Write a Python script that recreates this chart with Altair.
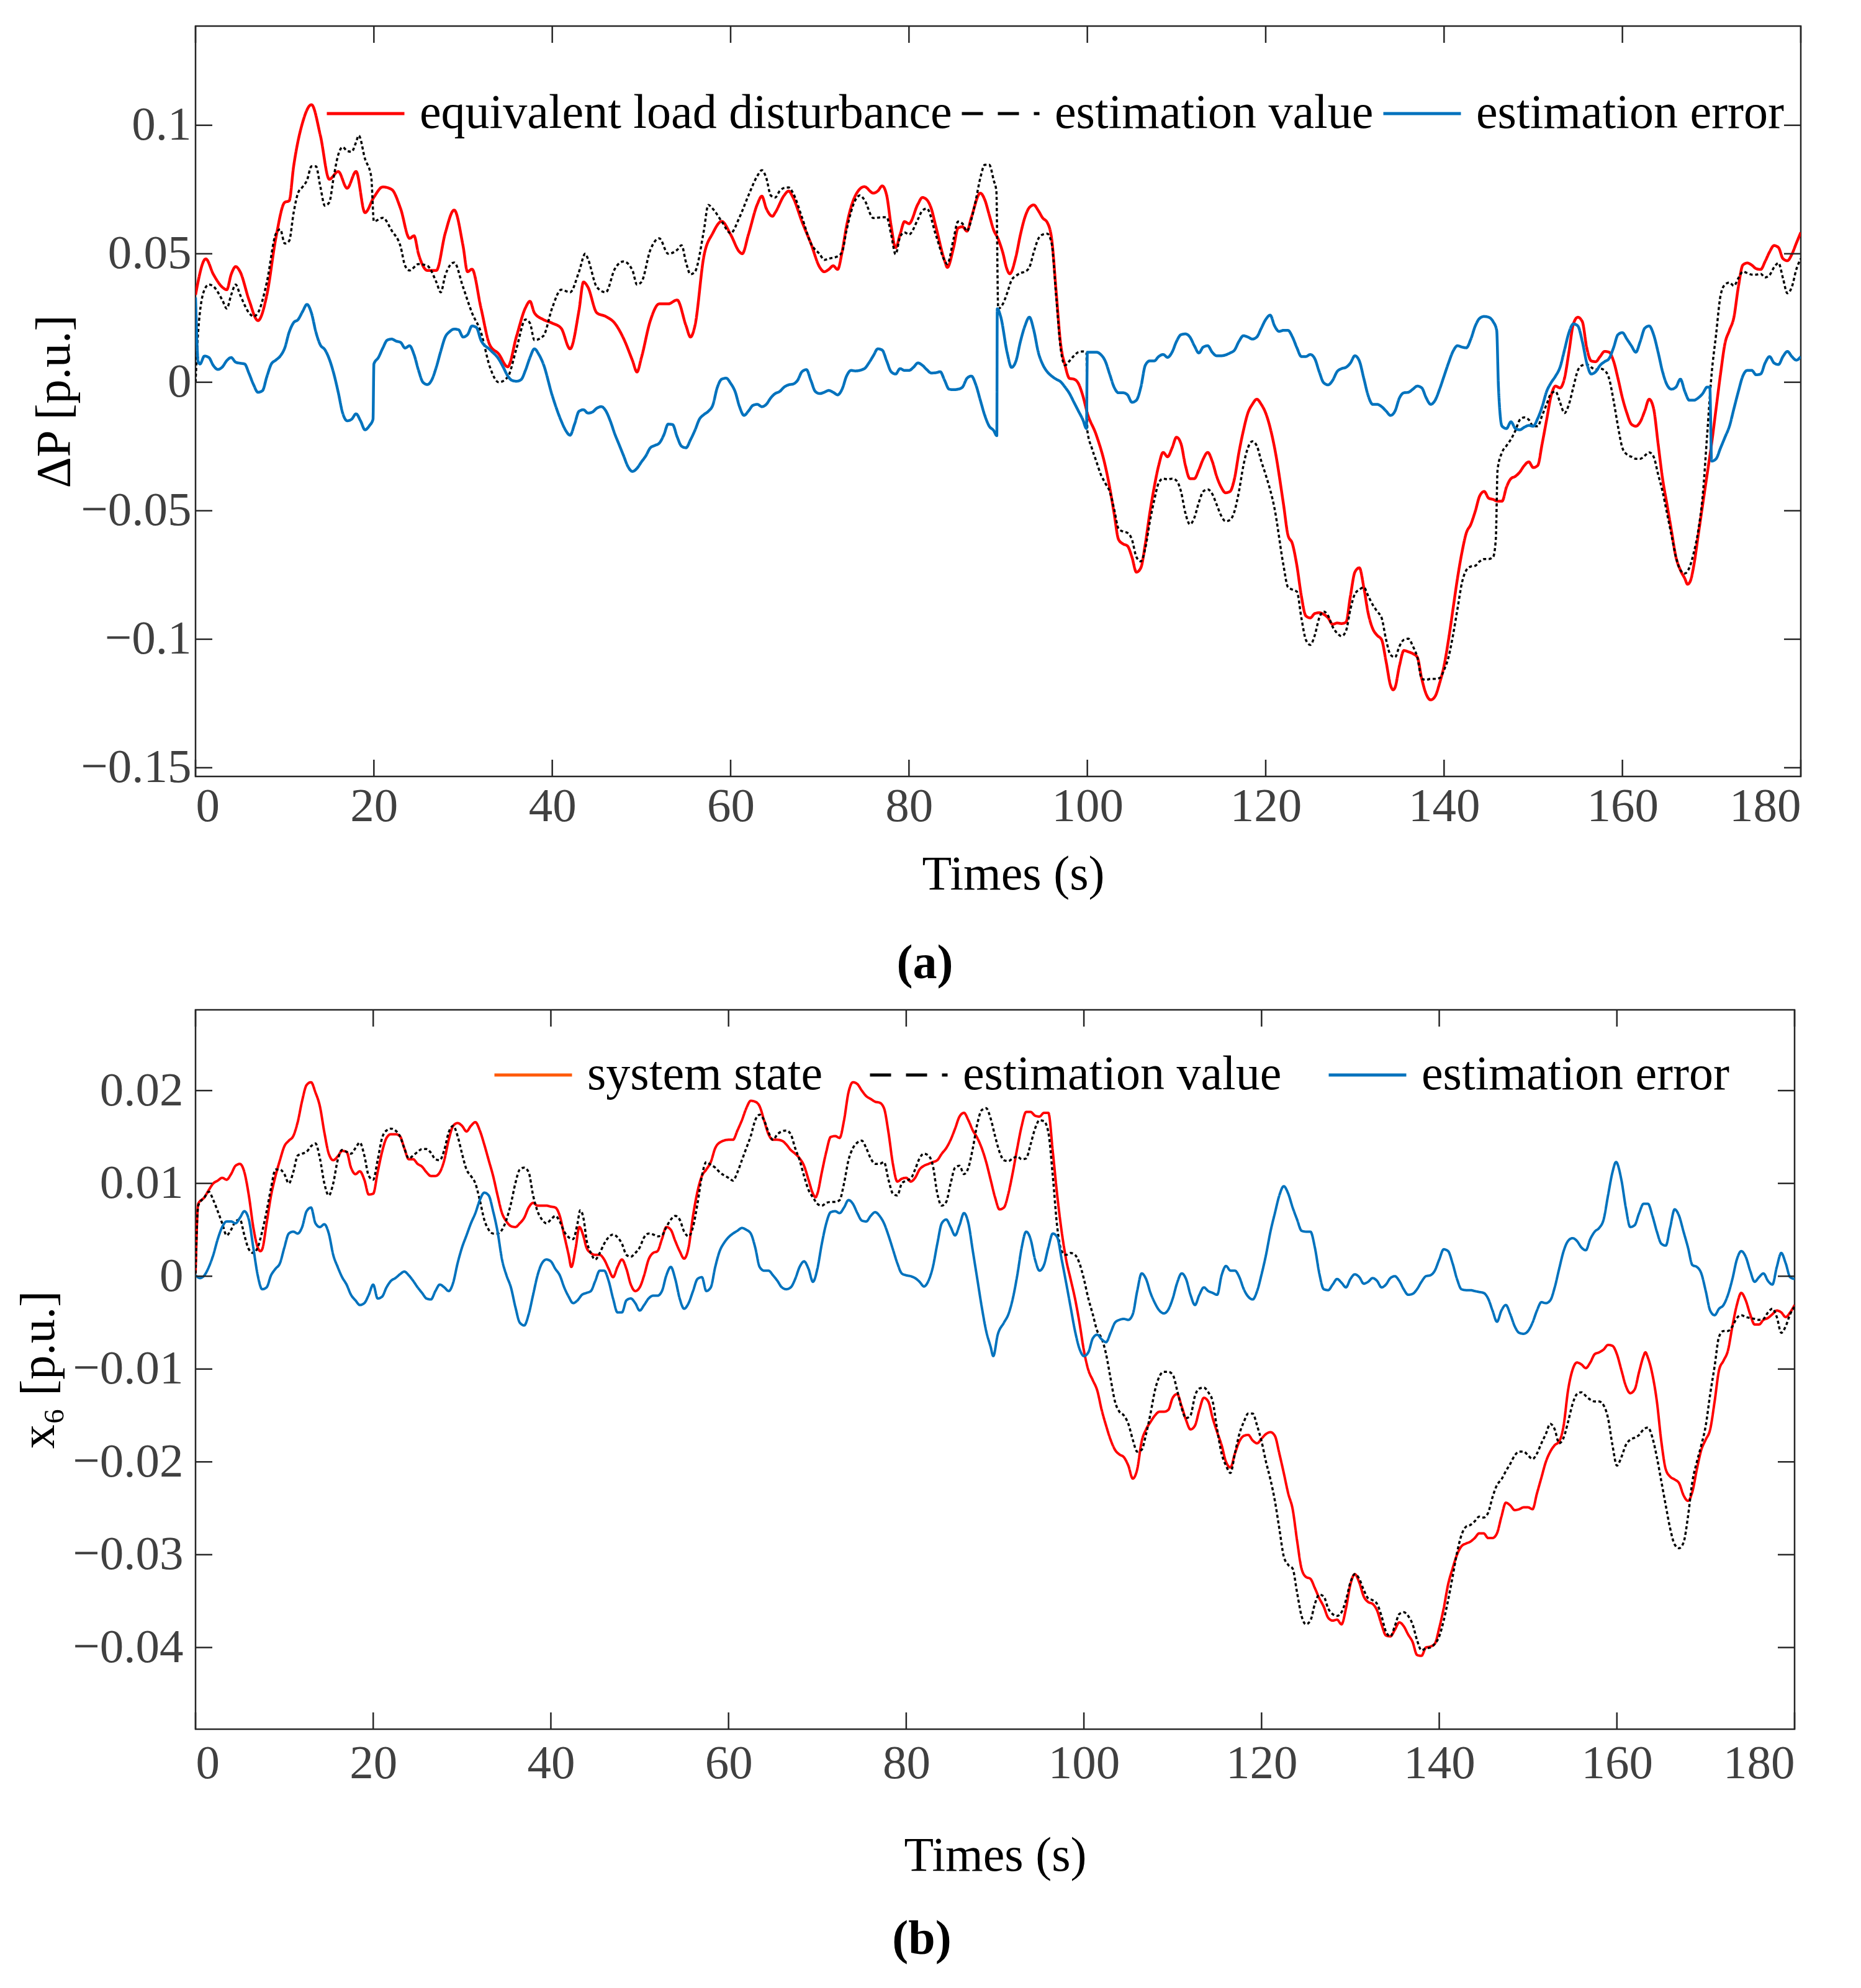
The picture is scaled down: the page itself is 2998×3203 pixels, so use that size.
import altair as alt
import pandas as pd

FONT = "Liberation Serif"
AXIS_COLOR = "#262626"
LABEL_COLOR = "#404040"

# ---------------- panel (a): equivalent load disturbance ----------------
A_NAMES = ["equivalent load disturbance", "estimation value", "estimation error"]

A_LOAD = [
    (0, 0.034), (1.15, 0.048), (2, 0.042), (3, 0.037), (3.5, 0.036), (4, 0.042), (4.5, 0.045),
    (5, 0.043), (6, 0.032), (7, 0.024), (8, 0.034), (9, 0.056), (10, 0.070), (10.5, 0.0706),
    (11, 0.084), (12, 0.101), (13, 0.108), (14, 0.096), (15, 0.079), (16, 0.082), (17, 0.0755),
    (18, 0.082), (19, 0.066), (20, 0.072), (21, 0.076), (22, 0.075), (23, 0.0675), (24, 0.056),
    (24.5, 0.057), (25, 0.050), (26, 0.0435), (27, 0.0435), (28, 0.058), (29, 0.067), (30, 0.053),
    (30.5, 0.043), (31, 0.044), (32, 0.029), (33, 0.0145), (34, 0.011), (35, 0.006), (36, 0.018),
    (37, 0.029), (37.5, 0.0315), (38, 0.027), (39, 0.0244), (40, 0.023), (41, 0.021), (42, 0.013),
    (43, 0.028), (43.5, 0.039), (44, 0.037), (45, 0.027), (46, 0.0256), (47, 0.023), (48, 0.017),
    (49, 0.0084), (49.5, 0.004), (50, 0.0096), (51, 0.024), (52, 0.0305), (53, 0.0305), (54, 0.032),
    (55, 0.022), (55.5, 0.0176), (56, 0.022), (57, 0.049), (58, 0.058), (59, 0.0626), (60, 0.0575),
    (61, 0.0507), (61.3, 0.050), (62, 0.0575), (63, 0.0693), (63.5, 0.0724), (64, 0.0676),
    (64.7, 0.0646), (65, 0.066), (66, 0.0727), (66.5, 0.0744), (67, 0.0719), (68, 0.0625),
    (69, 0.054), (70, 0.0447), (70.5, 0.043), (71, 0.0439), (71.5, 0.0453), (72, 0.0439),
    (72.5, 0.0507), (73, 0.0608), (74, 0.0727), (75, 0.0761), (76, 0.0736), (76.5, 0.0744),
    (77, 0.0764), (77.5, 0.0727), (78, 0.0608), (78.5, 0.0524), (79, 0.0575), (79.5, 0.0625),
    (80, 0.0617), (81, 0.0693), (81.5, 0.0719), (82, 0.071), (82.5, 0.0676), (83, 0.0608),
    (84, 0.0473), (84.3, 0.0447), (85, 0.0524), (85.5, 0.060), (86, 0.0605), (86.5, 0.0588),
    (87, 0.0642), (88, 0.0736), (88.5, 0.071), (89, 0.0651), (89.5, 0.0592), (90, 0.0558),
    (90.5, 0.0507), (91, 0.0439), (91.3, 0.0422), (92, 0.049), (92.5, 0.0575), (93, 0.0642),
    (93.5, 0.068), (94, 0.069), (94.5, 0.0668), (95, 0.0639), (95.5, 0.0622), (96, 0.0558),
    (96.5, 0.0354), (97, 0.0151), (97.5, 0.0066), (98, 0.0015), (98.5, 0.0012), (99, -0.0005),
    (99.5, -0.0053), (100, -0.012), (101, -0.0205), (102, -0.0324), (102.5, -0.0408), (103, -0.051),
    (103.5, -0.0612), (104, -0.0629), (104.5, -0.0637), (105, -0.068), (105.5, -0.0739),
    (106, -0.0722), (106.5, -0.0629), (107, -0.051), (107.5, -0.0408), (108, -0.0324),
    (108.5, -0.0273), (109, -0.029), (109.5, -0.0256), (110, -0.0214), (110.5, -0.0239),
    (111, -0.0324), (111.5, -0.0375), (112, -0.0375), (112.5, -0.0341), (113, -0.0298),
    (113.5, -0.0273), (114, -0.0307), (114.5, -0.0366), (115, -0.0408), (115.5, -0.043),
    (116, -0.0425), (116.5, -0.0375), (117, -0.0273), (117.5, -0.0188), (118, -0.012),
    (118.5, -0.0086), (119, -0.0066), (119.5, -0.0086), (120, -0.012), (121, -0.0256),
    (122, -0.0476), (122.5, -0.0595), (123, -0.0629), (123.5, -0.0714), (124, -0.0832),
    (124.5, -0.0909), (125, -0.0917), (125.5, -0.09), (126, -0.0897), (126.5, -0.0903),
    (127, -0.0917), (127.5, -0.0942), (128, -0.0937), (128.5, -0.0939), (129, -0.0934),
    (129.5, -0.0832), (130, -0.0739), (130.5, -0.0722), (131, -0.0798), (131.5, -0.09),
    (132, -0.0959), (132.5, -0.0985), (133, -0.1002), (133.5, -0.1087), (134, -0.118),
    (134.3, -0.1197), (134.5, -0.1188), (135, -0.1103), (135.5, -0.1044), (136, -0.1049),
    (136.5, -0.1056), (137, -0.107), (137.5, -0.1154), (138, -0.1214), (138.5, -0.1236),
    (139, -0.1222), (139.5, -0.1171), (140, -0.1103), (140.5, -0.1002), (141, -0.0883),
    (141.5, -0.0764), (142, -0.0663), (142.5, -0.0586), (143, -0.0553), (143.5, -0.0502),
    (144, -0.0442), (144.5, -0.0425), (145, -0.0451), (145.5, -0.0456), (146, -0.0463),
    (146.5, -0.0463), (147, -0.0408), (147.5, -0.0375), (148, -0.0366), (148.5, -0.0349),
    (149, -0.0324), (149.5, -0.031), (150, -0.0332), (150.5, -0.0324), (151, -0.0239),
    (151.5, -0.0146), (152, -0.0053), (152.5, -0.0015), (153, -0.0022), (153.5, 0.0015),
    (154, 0.0117), (154.5, 0.0227), (155, 0.0253), (155.5, 0.0236), (156, 0.0134), (156.5, 0.0083),
    (157, 0.008), (157.5, 0.01), (158, 0.012), (158.5, 0.0117), (159, 0.0083), (159.5, 0.0015),
    (160, -0.0061), (160.5, -0.012), (161, -0.0163), (161.5, -0.0171), (162, -0.0154),
    (162.5, -0.0112), (163, -0.0066), (163.5, -0.0103), (164, -0.0239), (164.5, -0.0375),
    (165, -0.0476), (165.5, -0.0578), (166, -0.068), (166.5, -0.0731), (167, -0.0764),
    (167.3, -0.0786), (167.6, -0.0775), (168, -0.0714), (168.5, -0.0595), (169, -0.0476),
    (169.5, -0.0358), (170, -0.0239), (170.5, -0.0103), (171, 0.0032), (171.5, 0.0151),
    (172, 0.0202), (172.5, 0.0253), (173, 0.0371), (173.5, 0.0456), (174, 0.0464), (174.5, 0.0456),
    (175, 0.0442), (175.5, 0.0439), (176, 0.047), (176.5, 0.0507), (177, 0.0532), (177.5, 0.0524),
    (178, 0.0481), (178.5, 0.0473), (179, 0.0498), (179.5, 0.0541), (180, 0.0583),
]

A_EST = [
    (0, 0.0), (0.3, 0.02), (1, 0.036), (1.5, 0.038), (2, 0.0373), (3, 0.032), (3.5, 0.0287),
    (4, 0.034), (4.5, 0.038), (5, 0.034), (6, 0.027), (6.5, 0.0256), (7, 0.027), (8, 0.039),
    (9, 0.0577), (9.5, 0.0595), (10, 0.054), (10.5, 0.055), (11, 0.066), (11.5, 0.0737),
    (12, 0.076), (12.5, 0.0786), (13, 0.084), (13.5, 0.084), (14, 0.076), (14.5, 0.0687),
    (15, 0.070), (15.5, 0.080), (16, 0.0885), (16.5, 0.0915), (17, 0.090), (17.5, 0.0897),
    (18, 0.0934), (18.3, 0.096), (19, 0.087), (19.7, 0.080), (20, 0.0626), (21, 0.064), (22, 0.059),
    (23, 0.0527), (23.5, 0.0453), (24, 0.0435), (25, 0.046), (26, 0.0453), (27, 0.039),
    (27.5, 0.035), (28, 0.0416), (29, 0.0466), (30, 0.037), (31, 0.027), (32, 0.0195), (33, 0.006),
    (34, 0.0), (35, 0.002), (36, 0.0133), (37, 0.0244), (37.5, 0.023), (38, 0.0164), (39, 0.018),
    (40, 0.029), (41, 0.036), (42, 0.035), (43, 0.043), (43.7, 0.050), (44, 0.048), (45, 0.037),
    (46, 0.035), (47, 0.044), (48, 0.047), (49, 0.0435), (49.5, 0.038), (50, 0.039), (51, 0.0515),
    (52, 0.056), (53, 0.050), (54, 0.0515), (54.5, 0.0533), (55, 0.0466), (55.5, 0.042),
    (56, 0.043), (57, 0.059), (57.5, 0.069), (58, 0.0675), (59, 0.0626), (60, 0.058), (61, 0.0642),
    (62, 0.0727), (63, 0.0803), (63.5, 0.0825), (64, 0.0795), (64.5, 0.0727), (65, 0.0719),
    (65.5, 0.0744), (66, 0.0756), (66.5, 0.0758), (67, 0.0736), (68, 0.0642), (69, 0.054),
    (70, 0.0498), (70.5, 0.0476), (71, 0.0481), (72, 0.049), (72.5, 0.0507), (73, 0.0592),
    (74, 0.071), (74.5, 0.0727), (75, 0.071), (76, 0.0639), (77, 0.0642), (77.5, 0.0642),
    (78, 0.0575), (78.5, 0.0498), (79, 0.0566), (79.5, 0.0583), (80, 0.0575), (81, 0.0634),
    (81.5, 0.0668), (82, 0.0676), (83, 0.0575), (84, 0.0473), (84.3, 0.046), (85, 0.0558),
    (85.5, 0.0625), (86, 0.0617), (86.5, 0.0588), (87, 0.0634), (87.5, 0.071), (88, 0.0795),
    (88.5, 0.0846), (89, 0.0846), (89.5, 0.0786), (89.8, 0.0744), (90, 0.0286), (90.5, 0.0303),
    (91, 0.0346), (91.5, 0.0397), (92, 0.0414), (92.5, 0.0425), (93, 0.043), (93.5, 0.0447),
    (94, 0.0507), (94.5, 0.0558), (95, 0.0575), (95.5, 0.0578), (96, 0.054), (96.5, 0.0337),
    (97, 0.0134), (97.5, 0.0066), (98, 0.0083), (98.5, 0.0103), (99, 0.0117), (99.5, 0.012),
    (99.9, 0.0117), (100, -0.0188), (100.5, -0.0256), (101, -0.0307), (101.5, -0.0358),
    (102, -0.0392), (102.5, -0.0425), (103, -0.0493), (103.5, -0.057), (104, -0.0581),
    (104.5, -0.0586), (105, -0.0612), (105.5, -0.068), (106, -0.0697), (106.5, -0.0646),
    (107, -0.0544), (107.5, -0.0459), (108, -0.0392), (108.5, -0.0375), (109, -0.0378),
    (109.5, -0.0375), (110, -0.0383), (110.5, -0.0425), (111, -0.051), (111.5, -0.0553),
    (112, -0.0527), (112.5, -0.0468), (113, -0.0425), (113.5, -0.0417), (114, -0.0434),
    (114.5, -0.0476), (115, -0.0519), (115.5, -0.0541), (116, -0.0536), (116.5, -0.0502),
    (117, -0.0425), (117.5, -0.0324), (118, -0.0256), (118.5, -0.023), (119, -0.0247),
    (119.5, -0.0307), (120, -0.036), (121, -0.0493), (122, -0.0714), (122.5, -0.0798),
    (123, -0.0807), (123.5, -0.0815), (124, -0.0917), (124.5, -0.1002), (125, -0.1022),
    (125.5, -0.0985), (126, -0.0917), (126.5, -0.0892), (127, -0.0909), (127.5, -0.0951),
    (128, -0.0976), (128.5, -0.0988), (129, -0.0968), (129.5, -0.0883), (130, -0.0824),
    (130.5, -0.0807), (131, -0.0798), (131.5, -0.0832), (132, -0.0866), (132.5, -0.0892),
    (133, -0.0917), (133.5, -0.1002), (134, -0.1061), (134.5, -0.107), (135, -0.1027),
    (135.5, -0.1002), (136, -0.0998), (136.5, -0.1027), (137, -0.107), (137.5, -0.1154),
    (138, -0.1158), (138.5, -0.1154), (139, -0.1154), (139.5, -0.1151), (140, -0.112),
    (140.5, -0.107), (141, -0.0985), (141.5, -0.0883), (142, -0.0781), (142.5, -0.0731),
    (143, -0.0717), (143.5, -0.0714), (144, -0.0697), (144.5, -0.0688), (145, -0.0688),
    (145.5, -0.068), (145.8, -0.0612), (146, -0.034), (146.5, -0.0273), (147, -0.0247),
    (147.5, -0.0222), (148, -0.0188), (148.5, -0.0146), (149, -0.0137), (149.5, -0.0146),
    (150, -0.0171), (150.5, -0.0171), (151, -0.0129), (151.5, -0.0086), (152, -0.0044),
    (152.5, -0.0036), (153, -0.0078), (153.5, -0.012), (154, -0.0086), (154.5, -0.0019),
    (155, 0.0046), (155.5, 0.0066), (156, 0.0069), (156.5, 0.0058), (157, 0.0049), (157.5, 0.0053),
    (158, 0.0046), (158.5, 0.0015), (159, -0.007), (159.5, -0.0171), (160, -0.0256),
    (160.5, -0.0281), (161, -0.029), (161.5, -0.0298), (162, -0.0298), (162.5, -0.0286),
    (163, -0.0273), (163.5, -0.029), (164, -0.0358), (164.5, -0.0425), (165, -0.051),
    (165.5, -0.0595), (166, -0.068), (166.5, -0.0731), (167, -0.0744), (167.5, -0.0722),
    (168, -0.0663), (168.5, -0.0578), (169, -0.0442), (169.5, -0.0205), (170, 0.0032),
    (170.5, 0.0185), (171, 0.0337), (171.5, 0.038), (172, 0.0388), (172.5, 0.0375), (173, 0.0405),
    (173.5, 0.043), (174, 0.0425), (174.5, 0.0419), (175, 0.0419), (175.5, 0.0422), (176, 0.0408),
    (176.5, 0.0417), (177, 0.0447), (177.5, 0.0464), (178, 0.0405), (178.5, 0.0346), (179, 0.0371),
    (179.5, 0.0439), (180, 0.0481),
]

A_ERR = [
    (0, 0.033), (0.3, 0.008), (0.5, 0.0071), (1, 0.0102), (1.5, 0.0096), (2, 0.0065), (2.5, 0.005),
    (3, 0.0059), (3.5, 0.0084), (4, 0.0096), (4.5, 0.0078), (5, 0.0074), (5.5, 0.0071),
    (6, 0.0034), (6.5, -0.0009), (7, -0.0039), (7.5, -0.0033), (8, 0.0022), (8.5, 0.0071),
    (9, 0.0086), (9.5, 0.0102), (10, 0.0133), (10.5, 0.0195), (11, 0.0232), (11.5, 0.0244),
    (12, 0.0275), (12.5, 0.0303), (13, 0.0269), (13.5, 0.0195), (14, 0.0145), (14.5, 0.0127),
    (15, 0.009), (15.5, 0.0034), (16, -0.0039), (16.5, -0.012), (17, -0.015), (17.5, -0.0144),
    (18, -0.0123), (18.5, -0.015), (19, -0.0185), (19.5, -0.0169), (19.9, -0.0144), (20, 0.0071),
    (20.5, 0.0096), (21, 0.0133), (21.5, 0.0164), (22, 0.0168), (22.5, 0.016), (23, 0.0155),
    (23.5, 0.0133), (24, 0.0142), (24.5, 0.0108), (25, 0.0047), (25.5, 0.0), (26, -0.0009),
    (26.5, 0.001), (27, 0.0059), (27.5, 0.0121), (28, 0.0176), (28.5, 0.0197), (29, 0.0207),
    (29.5, 0.0204), (30, 0.0176), (30.5, 0.0185), (31, 0.0219), (31.5, 0.0213), (32, 0.0164),
    (33, 0.0127), (34, 0.009), (34.5, 0.0059), (35, 0.0025), (35.5, 0.0007), (36, 0.0004),
    (36.5, 0.001), (37, 0.0047), (37.5, 0.0096), (38, 0.013), (38.5, 0.0108), (39, 0.0071),
    (40, -0.0052), (41, -0.015), (41.5, -0.0187), (42, -0.0206), (42.5, -0.0163), (43, -0.0113),
    (43.5, -0.0107), (44, -0.012), (44.5, -0.0116), (45, -0.0101), (45.5, -0.0095), (46, -0.0111),
    (46.5, -0.015), (47, -0.020), (47.5, -0.0243), (48, -0.0286), (48.5, -0.0329), (49, -0.0347),
    (49.5, -0.0335), (50, -0.031), (50.5, -0.0286), (51, -0.0255), (51.5, -0.0246), (52, -0.0237),
    (52.5, -0.0206), (53, -0.0163), (53.5, -0.0165), (54, -0.0212), (54.5, -0.0249),
    (55, -0.0255), (55.5, -0.0224), (56, -0.0187), (56.5, -0.0144), (57, -0.0126), (57.5, -0.0113),
    (58, -0.0089), (58.5, -0.0021), (59, 0.0012), (59.5, 0.0016), (60, -0.0004), (60.5, -0.0036),
    (61, -0.0095), (61.5, -0.0129), (62, -0.0112), (62.5, -0.009), (63, -0.0086), (63.5, -0.0095),
    (64, -0.0086), (64.5, -0.0061), (65, -0.0044), (65.5, -0.0036), (66, -0.0019), (66.5, -0.001),
    (67, -0.0007), (67.5, 0.0007), (68, 0.0041), (68.5, 0.0049), (69, 0.0007), (69.5, -0.0036),
    (70, -0.0044), (70.5, -0.0039), (71, -0.0032), (71.5, -0.0039), (72, -0.0049), (72.5, -0.0027),
    (73, 0.0024), (73.5, 0.0046), (74, 0.0044), (75, 0.0053), (75.5, 0.0075), (76, 0.0103),
    (76.5, 0.013), (77, 0.0125), (77.5, 0.0083), (78, 0.0041), (78.5, 0.0032), (79, 0.0053),
    (79.5, 0.0046), (80, 0.0046), (80.5, 0.0058), (81, 0.0075), (81.5, 0.0066), (82, 0.0049),
    (82.5, 0.0036), (83, 0.0037), (83.5, 0.0041), (84, 0.0007), (84.5, -0.0027), (85, -0.0029),
    (85.5, -0.0027), (86, -0.0019), (86.5, 0.0015), (87, 0.0024), (87.5, -0.001), (88, -0.007),
    (88.5, -0.0129), (89, -0.0171), (89.5, -0.0188), (89.85, -0.0208), (89.9, 0.0286),
    (90.3, 0.0253), (91, 0.0117), (91.5, 0.0058), (92, 0.0083), (92.5, 0.0159), (93, 0.0219),
    (93.5, 0.0253), (94, 0.0202), (94.5, 0.0117), (95, 0.0069), (95.5, 0.0041), (96, 0.0024),
    (96.5, 0.0012), (97, 0.0002), (97.5, -0.0019), (98, -0.0044), (98.5, -0.0078), (99, -0.0112),
    (99.5, -0.0146), (99.9, -0.018), (100, 0.0117), (101, 0.0117), (101.5, 0.0108), (102, 0.0083),
    (102.5, 0.0032), (103, -0.0019), (103.5, -0.0041), (104, -0.0041), (104.5, -0.0049),
    (105, -0.0078), (105.5, -0.007), (106, -0.0019), (106.5, 0.0066), (107, 0.0083),
    (107.5, 0.0083), (108, 0.01), (108.5, 0.0108), (109, 0.0097), (109.5, 0.0117), (110, 0.0159),
    (110.5, 0.0185), (111, 0.0188), (111.5, 0.0176), (112, 0.0142), (112.5, 0.0114),
    (113, 0.0137), (113.5, 0.0142), (114, 0.0117), (114.5, 0.0103), (115, 0.0103), (116, 0.0114),
    (116.5, 0.0125), (117, 0.0159), (117.5, 0.0181), (118, 0.0176), (118.5, 0.0168), (119, 0.0176),
    (119.5, 0.021), (120, 0.0244), (120.5, 0.0261), (121, 0.0219), (121.5, 0.0198), (122, 0.0202),
    (122.5, 0.0202), (123, 0.0176), (123.5, 0.0134), (124, 0.01), (124.5, 0.01), (125, 0.0108),
    (125.5, 0.0092), (126, 0.0041), (126.5, -0.0002), (127, -0.001), (127.5, 0.0007),
    (128, 0.0041), (128.5, 0.0053), (129, 0.0058), (129.5, 0.0075), (130, 0.0103), (130.5, 0.0083),
    (131, 0.0015), (131.5, -0.0053), (132, -0.0086), (132.5, -0.0086), (133, -0.0095),
    (133.5, -0.0112), (134, -0.0129), (134.5, -0.0112), (135, -0.0061), (135.5, -0.0041),
    (136, -0.0039), (136.5, -0.0027), (137, -0.0015), (137.5, -0.0022), (138, -0.0061),
    (138.5, -0.0086), (139, -0.007), (139.5, -0.0027), (140, 0.0024), (140.5, 0.0075),
    (141, 0.012), (141.5, 0.0142), (142, 0.0137), (142.5, 0.0134), (143, 0.0168), (143.5, 0.0219),
    (144, 0.0249), (144.5, 0.0256), (145, 0.0253), (145.5, 0.0236), (145.9, 0.0202),
    (146.1, -0.0019), (146.5, -0.0171), (147, -0.018), (147.5, -0.0154), (148, -0.018),
    (148.5, -0.0185), (149, -0.0175), (149.5, -0.0168), (150, -0.0171), (150.5, -0.0141),
    (151, -0.0095), (151.5, -0.0036), (152, -0.0002), (152.5, 0.0024), (153, 0.0058),
    (153.5, 0.0125), (154, 0.0193), (154.5, 0.0227), (155, 0.0219), (155.5, 0.0159),
    (156, 0.0075), (156.5, 0.0032), (157, 0.0041), (157.5, 0.0066), (158, 0.008), (158.5, 0.0092),
    (159, 0.0134), (159.5, 0.0185), (160, 0.0193), (160.5, 0.0168), (161, 0.0142), (161.5, 0.0117),
    (162, 0.0159), (162.5, 0.021), (163, 0.0219), (163.5, 0.0185), (164, 0.0117), (164.5, 0.0041),
    (165, -0.001), (165.5, -0.0027), (166, -0.0019), (166.5, 0.0012), (167, -0.0036),
    (167.5, -0.007), (168, -0.007), (168.5, -0.0061), (169, -0.0044), (169.5, -0.0019),
    (169.8, -0.0019), (170, -0.0307), (170.5, -0.0298), (171, -0.0256), (171.5, -0.0214),
    (172, -0.0171), (172.5, -0.0103), (173, -0.0036), (173.5, 0.0024), (174, 0.0046),
    (174.5, 0.0046), (175, 0.0029), (175.5, 0.0032), (176, 0.0075), (176.5, 0.01), (177, 0.0075),
    (177.5, 0.0069), (178, 0.01), (178.5, 0.012), (179, 0.01), (179.5, 0.0086), (180, 0.01),
]

# ---------------- panel (b): system state x6 ----------------
B_NAMES = ["system state", "estimation value", "estimation error"]

B_STATE = [
    (0, 0.0003), (0.3, 0.0078), (1, 0.0085), (1.5, 0.0093), (2, 0.01), (2.5, 0.0103), (3, 0.0106),
    (3.5, 0.0104), (4, 0.011), (4.5, 0.0119), (5, 0.0121), (5.5, 0.0112), (6, 0.0087), (6.5, 0.0053),
    (7, 0.0031), (7.3, 0.0027), (7.5, 0.0029), (8, 0.0057), (8.5, 0.0087), (9, 0.0108),
    (9.5, 0.0125), (10, 0.014), (10.5, 0.0146), (11, 0.0151), (11.5, 0.0166), (12, 0.0189),
    (12.5, 0.0206), (13, 0.0209), (13.5, 0.0198), (14, 0.0183), (14.5, 0.0155), (15, 0.0132),
    (15.5, 0.0125), (16, 0.0129), (16.5, 0.0135), (17, 0.0134), (17.5, 0.0117), (18, 0.011),
    (18.5, 0.0113), (19, 0.0104), (19.5, 0.0088), (20, 0.0089), (20.5, 0.0112), (21, 0.0134),
    (21.5, 0.0149), (22, 0.0153), (22.5, 0.0153), (23, 0.0151), (23.5, 0.0138), (24, 0.0126),
    (24.5, 0.0126), (25, 0.0121), (25.5, 0.0118), (26, 0.0112), (26.5, 0.0108), (27, 0.0108),
    (27.5, 0.0112), (28, 0.0125), (28.5, 0.0147), (29, 0.0162), (29.5, 0.0165), (30, 0.0162),
    (30.5, 0.0156), (31, 0.0162), (31.5, 0.0166), (32, 0.0157), (32.5, 0.0142), (33, 0.0125),
    (33.5, 0.0108), (34, 0.0087), (34.5, 0.0068), (35, 0.0059), (35.5, 0.0054), (36, 0.0053),
    (36.5, 0.0057), (37, 0.0063), (37.5, 0.0074), (38, 0.0079), (38.5, 0.0076), (39, 0.0076),
    (39.5, 0.0076), (40, 0.0075), (40.5, 0.0074), (41, 0.0065), (41.5, 0.0044), (42, 0.0023),
    (42.3, 0.001), (42.8, 0.0031), (43.2, 0.0053), (43.7, 0.0042), (44, 0.0031), (44.5, 0.0025),
    (45, 0.0023), (45.5, 0.0023), (46, 0.0018), (46.5, 0.0008), (47, -0.0001), (47.5, 0.001),
    (48, 0.0018), (48.5, 0.0008), (49, -0.0009), (49.5, -0.0016), (50, -0.0012), (50.5, 0.0001),
    (51, 0.0018), (51.5, 0.0025), (52, 0.0027), (52.5, 0.004), (53, 0.0053), (53.5, 0.005),
    (54, 0.0038), (54.5, 0.0027), (55, 0.0019), (55.5, 0.0031), (56, 0.0065), (56.5, 0.0091),
    (57, 0.0108), (57.5, 0.0115), (58, 0.0123), (58.5, 0.0138), (59, 0.0144), (60, 0.0147),
    (60.5, 0.0147), (61, 0.0157), (61.5, 0.0168), (62, 0.0181), (62.5, 0.0189), (63, 0.0188),
    (63.5, 0.0183), (64, 0.0168), (64.5, 0.0153), (65, 0.0147), (65.5, 0.0147), (66, 0.0146),
    (66.5, 0.0142), (67, 0.0136), (67.5, 0.0132), (68, 0.0127), (68.5, 0.0119), (69, 0.0104),
    (69.5, 0.0089), (69.8, 0.0085), (70, 0.0089), (70.5, 0.0112), (71, 0.0134), (71.5, 0.015),
    (72, 0.0151), (72.5, 0.0149), (73, 0.0168), (73.5, 0.0198), (74, 0.0209), (74.5, 0.0207),
    (75, 0.02), (75.5, 0.0194), (76, 0.0191), (76.5, 0.0188), (77, 0.0187), (77.5, 0.0181),
    (78, 0.0155), (78.5, 0.0121), (79, 0.0102), (79.5, 0.0105), (80, 0.0106), (80.5, 0.0102),
    (81, 0.0106), (81.5, 0.0115), (82, 0.0119), (82.5, 0.0121), (83, 0.0123), (83.5, 0.0125),
    (84, 0.0132), (84.5, 0.0138), (85, 0.0147), (85.5, 0.0159), (86, 0.0172), (86.5, 0.0176),
    (87, 0.0168), (87.5, 0.0157), (88, 0.0149), (88.5, 0.0138), (89, 0.0123), (89.5, 0.0104),
    (90, 0.0085), (90.5, 0.0072), (91, 0.0074), (91.5, 0.0089), (92, 0.0112), (92.5, 0.0138),
    (93, 0.0162), (93.5, 0.0177), (94, 0.0177), (94.5, 0.0173), (95, 0.0172), (95.5, 0.0176),
    (96, 0.0176), (96.5, 0.0134), (97, 0.0087), (97.5, 0.0048), (98, 0.0018), (98.5, -0.0003),
    (99, -0.0024), (99.5, -0.005), (100, -0.008), (100.5, -0.0101), (101, -0.0112),
    (101.5, -0.0123), (102, -0.0144), (102.5, -0.0161), (103, -0.0176), (103.5, -0.0187),
    (104, -0.0192), (104.5, -0.0195), (105, -0.0204), (105.5, -0.0218), (106, -0.0208),
    (106.5, -0.0178), (107, -0.0165), (107.5, -0.0157), (108, -0.015), (108.5, -0.0146),
    (109, -0.0146), (109.5, -0.0144), (110, -0.0131), (110.5, -0.0127), (111, -0.014),
    (111.5, -0.0155), (112, -0.0165), (112.5, -0.0161), (113, -0.0144), (113.5, -0.0131),
    (114, -0.0135), (114.5, -0.0153), (115, -0.0168), (115.5, -0.0182), (116, -0.02),
    (116.5, -0.0206), (117, -0.0191), (117.5, -0.0178), (118, -0.0172), (118.5, -0.0171),
    (119, -0.0177), (119.5, -0.018), (120, -0.0175), (120.5, -0.017), (121, -0.0168),
    (121.5, -0.0172), (122, -0.0191), (122.5, -0.0212), (123, -0.0234), (123.5, -0.0251),
    (124, -0.0285), (124.5, -0.0315), (125, -0.0324), (125.5, -0.0326), (126, -0.0336),
    (126.5, -0.0347), (127, -0.0356), (127.5, -0.0368), (128, -0.0371), (128.5, -0.037),
    (129, -0.0375), (129.5, -0.0358), (130, -0.0332), (130.5, -0.0321), (131, -0.033),
    (131.5, -0.0345), (132, -0.0351), (132.5, -0.0353), (133, -0.036), (133.5, -0.0375),
    (134, -0.0387), (134.5, -0.0388), (135, -0.0381), (135.5, -0.0373), (136, -0.0377),
    (136.5, -0.0386), (137, -0.0394), (137.5, -0.0408), (138, -0.0409), (138.5, -0.04),
    (139, -0.0399), (139.5, -0.0396), (140, -0.0379), (140.5, -0.0358), (141, -0.0332),
    (141.5, -0.0315), (142, -0.03), (142.5, -0.0291), (143, -0.0288), (143.5, -0.0286),
    (144, -0.0282), (144.5, -0.0277), (145, -0.0277), (145.5, -0.0282), (146, -0.0282),
    (146.5, -0.0277), (147, -0.0259), (147.5, -0.0244), (148, -0.0247), (148.5, -0.0252),
    (149, -0.0251), (149.5, -0.0249), (150, -0.0249), (150.5, -0.0251), (151, -0.0234),
    (151.5, -0.0217), (152, -0.02), (152.5, -0.0189), (153, -0.0182), (153.5, -0.0178),
    (154, -0.0161), (154.5, -0.0123), (155, -0.0101), (155.5, -0.0093), (156, -0.0095),
    (156.5, -0.0099), (157, -0.0093), (157.5, -0.0084), (158, -0.0082), (158.5, -0.0079),
    (159, -0.0074), (159.5, -0.0075), (160, -0.0084), (160.5, -0.0101), (161, -0.0118),
    (161.5, -0.0126), (162, -0.0122), (162.5, -0.0103), (163, -0.0086), (163.2, -0.0082),
    (163.5, -0.0088), (164, -0.0106), (164.5, -0.0135), (165, -0.0178), (165.5, -0.0208),
    (166, -0.0216), (166.5, -0.0219), (167, -0.0223), (167.5, -0.0236), (168, -0.0242),
    (168.5, -0.0232), (169, -0.0208), (169.5, -0.0187), (170, -0.0176), (170.5, -0.0165),
    (171, -0.0135), (171.5, -0.0101), (172, -0.0091), (172.5, -0.008), (173, -0.0054),
    (173.5, -0.0031), (174, -0.0018), (174.5, -0.0026), (175, -0.0041), (175.5, -0.0052),
    (176, -0.0052), (176.5, -0.0047), (177, -0.0045), (177.5, -0.0041), (178, -0.0037),
    (178.5, -0.0039), (179, -0.0044), (179.5, -0.0039), (180, -0.0031),
]

B_EST = [
    (0, 0.0003), (0.3, 0.0076), (1, 0.0085), (1.5, 0.0091), (2, 0.0082), (2.5, 0.007), (3, 0.0057),
    (3.5, 0.0044), (4, 0.005), (4.5, 0.0059), (5, 0.0061), (5.5, 0.0044), (6, 0.0029), (6.5, 0.0025),
    (7, 0.0031), (7.5, 0.0048), (8, 0.007), (8.5, 0.0095), (9, 0.0115), (9.5, 0.0115), (10, 0.011),
    (10.5, 0.01), (11, 0.0112), (11.5, 0.013), (12, 0.0132), (12.5, 0.0134), (13, 0.014),
    (13.5, 0.0143), (14, 0.0127), (14.5, 0.01), (15, 0.0087), (15.5, 0.01), (16, 0.0125),
    (16.5, 0.0136), (17, 0.0134), (17.5, 0.0132), (18, 0.0138), (18.5, 0.0144), (19, 0.013),
    (19.5, 0.0108), (20, 0.0104), (20.5, 0.0125), (21, 0.0149), (21.5, 0.0157), (22, 0.0159),
    (22.5, 0.0157), (23, 0.0151), (23.5, 0.0138), (24, 0.0127), (24.5, 0.013), (25, 0.0134),
    (25.5, 0.0137), (26, 0.0137), (26.5, 0.0133), (27, 0.0126), (27.5, 0.0125), (28, 0.0136),
    (28.5, 0.0155), (29, 0.0162), (29.5, 0.0151), (30, 0.0132), (30.5, 0.0115), (31, 0.0108),
    (31.5, 0.01), (32, 0.0082), (32.5, 0.0061), (33, 0.005), (33.5, 0.0046), (34, 0.0046),
    (34.5, 0.005), (35, 0.0061), (35.5, 0.0078), (36, 0.01), (36.5, 0.0115), (37, 0.0117),
    (37.5, 0.0112), (38, 0.0087), (38.5, 0.007), (39, 0.0061), (39.5, 0.0057), (40, 0.0061),
    (40.5, 0.0065), (41, 0.0059), (41.5, 0.0048), (42, 0.0042), (42.5, 0.004), (43, 0.0057),
    (43.3, 0.0071), (43.7, 0.0061), (44, 0.004), (44.5, 0.0025), (45, 0.0018), (45.5, 0.0025),
    (46, 0.0035), (46.5, 0.0042), (47, 0.0045), (47.5, 0.0042), (48, 0.0035), (48.5, 0.0023),
    (49, 0.0021), (49.5, 0.0025), (50, 0.0031), (50.5, 0.0042), (51, 0.0046), (51.5, 0.0045),
    (52, 0.0043), (52.5, 0.0044), (53, 0.0053), (53.5, 0.0061), (54, 0.0065), (54.5, 0.0061),
    (55, 0.0048), (55.5, 0.0043), (56, 0.0053), (56.5, 0.0078), (57, 0.0108), (57.5, 0.0123),
    (58, 0.012), (58.5, 0.0117), (59, 0.0112), (60, 0.0106), (60.5, 0.0103), (61, 0.0112),
    (61.5, 0.0125), (62, 0.0138), (62.5, 0.0151), (63, 0.0168), (63.5, 0.0174), (64, 0.0168),
    (64.5, 0.0155), (65, 0.0147), (65.5, 0.0153), (66, 0.0156), (66.5, 0.0157), (67, 0.0153),
    (67.5, 0.0138), (68, 0.0125), (68.5, 0.0108), (69, 0.0093), (69.5, 0.0085), (70, 0.0078),
    (70.5, 0.0076), (71, 0.0079), (71.5, 0.008), (72, 0.008), (72.5, 0.0082), (73, 0.01),
    (73.5, 0.0125), (74, 0.0138), (74.5, 0.0144), (75, 0.0146), (75.5, 0.0138), (76, 0.0127),
    (76.5, 0.0121), (77, 0.0121), (77.5, 0.0123), (78, 0.0104), (78.5, 0.0089), (79, 0.0087),
    (79.5, 0.01), (80, 0.0103), (80.5, 0.0105), (81, 0.0115), (81.5, 0.0127), (82, 0.0132),
    (82.5, 0.013), (83, 0.0119), (83.5, 0.0089), (84, 0.0076), (84.5, 0.008), (85, 0.01),
    (85.5, 0.0117), (86, 0.0119), (86.5, 0.011), (87, 0.0117), (87.5, 0.0138), (88, 0.0164),
    (88.5, 0.0179), (89, 0.0181), (89.5, 0.017), (90, 0.0151), (90.5, 0.0134), (91, 0.0125),
    (91.5, 0.0124), (92, 0.0127), (92.5, 0.0129), (93, 0.0126), (93.5, 0.0127), (94, 0.0142),
    (94.5, 0.0159), (95, 0.0168), (95.5, 0.0167), (96, 0.0155), (96.5, 0.0108), (97, 0.0053),
    (97.5, 0.0027), (98, 0.0023), (98.5, 0.0025), (99, 0.0023), (99.5, 0.0014), (100, -0.0003),
    (100.5, -0.0024), (101, -0.0041), (101.5, -0.0059), (102, -0.0067), (102.5, -0.0084),
    (103, -0.011), (103.5, -0.0135), (104, -0.0146), (104.5, -0.015), (105, -0.0159),
    (105.5, -0.0176), (106, -0.0189), (106.5, -0.0187), (107, -0.017), (107.5, -0.0148),
    (108, -0.0123), (108.5, -0.0108), (109, -0.0103), (109.5, -0.0103), (110, -0.0106),
    (110.5, -0.0123), (111, -0.0142), (111.5, -0.0153), (112, -0.015), (112.5, -0.0129),
    (113, -0.0121), (113.5, -0.012), (114, -0.0125), (114.5, -0.0135), (115, -0.0165),
    (115.5, -0.0191), (116, -0.0204), (116.5, -0.0212), (117, -0.0191), (117.5, -0.017),
    (118, -0.0157), (118.5, -0.0148), (119, -0.0148), (119.5, -0.0161), (120, -0.0178),
    (120.5, -0.02), (121, -0.0219), (121.5, -0.0242), (122, -0.0272), (122.5, -0.0302),
    (123, -0.0311), (123.5, -0.0315), (124, -0.0341), (124.5, -0.0366), (125, -0.0375),
    (125.5, -0.0371), (126, -0.0353), (126.5, -0.0343), (127, -0.0345), (127.5, -0.0358),
    (128, -0.0364), (128.5, -0.0366), (129, -0.0362), (129.5, -0.0349), (130, -0.033),
    (130.5, -0.0321), (131, -0.0326), (131.5, -0.0338), (132, -0.0347), (132.5, -0.0349),
    (133, -0.0353), (133.5, -0.0366), (134, -0.0383), (134.5, -0.0388), (135, -0.0377),
    (135.5, -0.0364), (136, -0.0362), (136.5, -0.0366), (137, -0.0375), (137.5, -0.0392),
    (138, -0.0403), (138.5, -0.0401), (139, -0.04), (139.5, -0.0396), (140, -0.0388),
    (140.5, -0.0371), (141, -0.0349), (141.5, -0.0324), (142, -0.0298), (142.5, -0.0279),
    (143, -0.027), (143.5, -0.0268), (144, -0.0264), (144.5, -0.0259), (145, -0.026),
    (145.5, -0.0255), (146, -0.0238), (146.5, -0.0225), (147, -0.0219), (147.5, -0.021),
    (148, -0.0202), (148.5, -0.0193), (149, -0.0189), (149.5, -0.0189), (150, -0.0193),
    (150.5, -0.0197), (151, -0.0191), (151.5, -0.018), (152, -0.017), (152.5, -0.0159),
    (153, -0.0165), (153.5, -0.018), (154, -0.0174), (154.5, -0.0157), (155, -0.0138),
    (155.5, -0.0127), (156, -0.0125), (156.5, -0.0129), (157, -0.0133), (157.5, -0.0135),
    (158, -0.0135), (158.5, -0.0139), (159, -0.0153), (159.5, -0.0182), (160, -0.0204),
    (160.5, -0.0195), (161, -0.0182), (161.5, -0.0176), (162, -0.0174), (162.5, -0.0171),
    (163, -0.0165), (163.5, -0.0163), (164, -0.0174), (164.5, -0.0195), (165, -0.0221),
    (165.5, -0.0247), (166, -0.0272), (166.5, -0.0289), (167, -0.0293), (167.5, -0.0287),
    (168, -0.0259), (168.5, -0.0221), (169, -0.02), (169.5, -0.0182), (170, -0.0161),
    (170.5, -0.0127), (171, -0.0097), (171.5, -0.0065), (172, -0.0059), (172.5, -0.0059),
    (173, -0.0054), (173.5, -0.0045), (174, -0.0042), (174.5, -0.0044), (175, -0.0045),
    (175.5, -0.0046), (176, -0.0047), (176.5, -0.0046), (177, -0.0039), (177.5, -0.0035),
    (178, -0.0044), (178.5, -0.0061), (179, -0.0054), (179.5, -0.0041), (180, -0.0033),
]

B_ERR = [
    (0, 0.0001), (0.5, -0.0002), (1, 0.0001), (1.5, 0.001), (2, 0.0023), (2.5, 0.004), (3, 0.0053),
    (3.5, 0.0059), (4, 0.0059), (4.5, 0.0057), (5, 0.0063), (5.5, 0.007), (6, 0.0061), (6.5, 0.0031),
    (7, 0.0001), (7.5, -0.0014), (8, -0.0012), (8.5, 0.0001), (9, 0.0008), (9.5, 0.0014),
    (10, 0.0031), (10.5, 0.0046), (11, 0.0048), (11.5, 0.0046), (12, 0.0053), (12.5, 0.007),
    (13, 0.0074), (13.5, 0.0057), (14, 0.0053), (14.5, 0.0056), (15, 0.0046), (15.5, 0.0023),
    (16, 0.001), (16.5, -0.0001), (17, -0.0009), (17.5, -0.002), (18, -0.0026), (18.5, -0.0031),
    (19, -0.0029), (19.5, -0.002), (20, -0.0009), (20.5, -0.0024), (21, -0.0022), (21.5, -0.0012),
    (22, -0.0005), (22.5, -0.0002), (23, 0.0002), (23.5, 0.0005), (24, 0.0001), (24.5, -0.0005),
    (25, -0.0012), (25.5, -0.0018), (26, -0.0024), (26.5, -0.0025), (27, -0.0016), (27.5, -0.0009),
    (28, -0.0012), (28.5, -0.0016), (29, -0.0007), (29.5, 0.0014), (30, 0.0031), (30.5, 0.0044),
    (31, 0.0057), (31.5, 0.0068), (32, 0.0082), (32.5, 0.009), (33, 0.0087), (33.5, 0.007),
    (34, 0.0048), (34.5, 0.0018), (35, 0.0001), (35.5, -0.0012), (36, -0.0033), (36.5, -0.005),
    (37, -0.0053), (37.5, -0.0041), (38, -0.002), (38.5, 0.0001), (39, 0.0014), (39.5, 0.0018),
    (40, 0.0016), (40.5, 0.0008), (41, 0.0001), (41.5, -0.0012), (42, -0.0022), (42.5, -0.0029),
    (43, -0.0026), (43.5, -0.002), (44, -0.0018), (44.5, -0.0016), (45, -0.0005), (45.5, 0.0006),
    (46, 0.0006), (46.5, -0.0005), (47, -0.0024), (47.5, -0.0039), (48, -0.0039), (48.5, -0.0026),
    (49, -0.0024), (49.5, -0.0029), (50, -0.0037), (50.5, -0.0031), (51, -0.0024), (51.5, -0.0021),
    (52, -0.0021), (52.5, -0.0016), (53, 0.0001), (53.5, 0.001), (54, -0.0003), (54.5, -0.0024),
    (55, -0.0035), (55.5, -0.0029), (56, -0.0016), (56.5, -0.0003), (57, -0.0001), (57.5, -0.0016),
    (58, -0.0012), (58.5, 0.001), (59, 0.0027), (59.5, 0.0036), (60, 0.0042), (60.5, 0.0046),
    (61, 0.0049), (61.5, 0.0052), (62, 0.005), (62.5, 0.0046), (63, 0.0031), (63.5, 0.001),
    (64, 0.0006), (64.5, 0.0006), (65, 0.0001), (65.5, -0.0005), (66, -0.0012), (66.5, -0.0014),
    (67, -0.0012), (67.5, -0.0003), (68, 0.001), (68.5, 0.0016), (69, 0.0008), (69.5, -0.0006),
    (70, 0.0008), (70.5, 0.0035), (71, 0.0057), (71.5, 0.0069), (72, 0.007), (72.5, 0.0068),
    (73, 0.0074), (73.5, 0.0082), (74, 0.0078), (74.5, 0.0068), (75, 0.006), (75.5, 0.0059),
    (76, 0.0065), (76.5, 0.0069), (77, 0.0065), (77.5, 0.0057), (78, 0.0044), (78.5, 0.0029),
    (79, 0.0014), (79.5, 0.0003), (80, 0.0001), (80.5, 0.0), (81, -0.0002), (81.5, -0.0006),
    (82, -0.0011), (82.5, -0.0005), (83, 0.001), (83.5, 0.0035), (84, 0.0057), (84.5, 0.0061),
    (85, 0.0053), (85.5, 0.0044), (86, 0.0055), (86.5, 0.0068), (87, 0.0057), (87.5, 0.0027),
    (88, -0.0003), (88.5, -0.0033), (89, -0.0059), (89.5, -0.0076), (89.8, -0.0086),
    (90.3, -0.0063), (91, -0.005), (91.5, -0.0041), (92, -0.0024), (92.5, 0.0001), (93, 0.0031),
    (93.5, 0.0048), (94, 0.004), (94.5, 0.0018), (95, 0.0006), (95.5, 0.0012), (96, 0.0031),
    (96.5, 0.0046), (97, 0.0042), (97.5, 0.0018), (98, -0.0007), (98.5, -0.0033), (99, -0.0059),
    (99.5, -0.0078), (100, -0.0086), (100.5, -0.0082), (101, -0.0067), (101.5, -0.0063),
    (102, -0.0068), (102.5, -0.0071), (103, -0.0061), (103.5, -0.005), (104, -0.0047),
    (104.5, -0.0046), (105, -0.0047), (105.5, -0.0041), (106, -0.0016), (106.5, 0.0003),
    (107, -0.0003), (107.5, -0.0018), (108, -0.0029), (108.5, -0.0037), (109, -0.004),
    (109.5, -0.0036), (110, -0.0024), (110.5, -0.0007), (111, 0.0003), (111.5, -0.0003),
    (112, -0.002), (112.5, -0.0031), (113, -0.002), (113.5, -0.0012), (114, -0.0016),
    (114.5, -0.0018), (115, -0.002), (115.5, 0.0001), (116, 0.0011), (116.5, 0.0006),
    (117, 0.0006), (117.5, -0.0001), (118, -0.0014), (118.5, -0.0022), (119, -0.0025),
    (119.5, -0.0016), (120, 0.0002), (120.5, 0.0023), (121, 0.0048), (121.5, 0.0068),
    (122, 0.0087), (122.5, 0.0097), (123, 0.0089), (123.5, 0.0074), (124, 0.0061), (124.5, 0.0049),
    (125, 0.0048), (125.5, 0.0048), (126, 0.0031), (126.5, 0.0003), (127, -0.0014),
    (127.5, -0.0015), (128, -0.0009), (128.5, -0.0003), (129, -0.0007), (129.5, -0.0012),
    (130, -0.0003), (130.5, 0.0002), (131, -0.0001), (131.5, -0.0008), (132, -0.0006),
    (132.5, -0.0002), (133, -0.0005), (133.5, -0.0012), (134, -0.0009), (134.5, -0.0002),
    (135, 0.0), (135.5, -0.0005), (136, -0.0014), (136.5, -0.002), (137, -0.0019), (137.5, -0.0014),
    (138, -0.0006), (138.5, 0.0), (139, 0.0001), (139.5, 0.0006), (140, 0.0018), (140.5, 0.0029),
    (141, 0.0027), (141.5, 0.0014), (142, -0.0003), (142.5, -0.0014), (143, -0.0015),
    (143.5, -0.0015), (144, -0.0016), (144.5, -0.0017), (145, -0.0018), (145.5, -0.0024),
    (146, -0.0037), (146.5, -0.0049), (147, -0.0037), (147.5, -0.0031), (148, -0.0041),
    (148.5, -0.0054), (149, -0.0061), (149.5, -0.0062), (150, -0.0059), (150.5, -0.005),
    (151, -0.0037), (151.5, -0.0028), (152, -0.0029), (152.5, -0.0026), (153, -0.0012),
    (153.5, 0.0008), (154, 0.0027), (154.5, 0.0038), (155, 0.0041), (155.5, 0.0038),
    (156, 0.0031), (156.5, 0.0028), (157, 0.004), (157.5, 0.0048), (158, 0.0052), (158.5, 0.0061),
    (159, 0.0087), (159.5, 0.0112), (159.9, 0.0123), (160.5, 0.0104), (161, 0.0074),
    (161.5, 0.0053), (162, 0.0055), (162.5, 0.0068), (163, 0.0078), (163.5, 0.0078),
    (164, 0.0065), (164.5, 0.0048), (165, 0.0035), (165.5, 0.0033), (166, 0.0053), (166.5, 0.0072),
    (167, 0.0065), (167.5, 0.0048), (168, 0.0031), (168.5, 0.0012), (169, 0.001), (169.5, 0.0003),
    (170, -0.0016), (170.5, -0.0037), (171, -0.0042), (171.5, -0.0035), (172, -0.0031),
    (172.5, -0.002), (173, -0.0003), (173.5, 0.0018), (174, 0.0027), (174.5, 0.0021),
    (175, 0.0006), (175.5, -0.0006), (176, -0.0001), (176.5, 0.0003), (177, -0.0005),
    (177.5, -0.0009), (178, 0.001), (178.5, 0.0025), (179, 0.0014), (179.5, -0.0001),
    (180, -0.0003),
]

X_TICKS = [0, 20, 40, 60, 80, 100, 120, 140, 160, 180]
A_Y_TICKS = [-0.15, -0.1, -0.05, 0, 0.05, 0.1]
B_Y_TICKS = [-0.04, -0.03, -0.02, -0.01, 0, 0.01, 0.02]

LINE_COLORS = ["#FF0000", "#000000", "#0072BD"]
LINE_DASHES = [[1, 0], [5, 4], [1, 0]]
# MATLAB draws the legend sample of a dotted line as "- - ."
LEGEND_DASHES = [[1, 0], [34, 24], [1, 0]]


def frame(pairs, name):
    return pd.DataFrame(pairs, columns=["t", "v"]).assign(series=name)


def legend(x, y, pad):
    return alt.Legend(title=None, orient="none", legendX=x, legendY=y, direction="horizontal",
                      symbolType="stroke", symbolSize=125 * 125, symbolStrokeWidth=5,
                      labelFont=FONT, labelFontSize=78, labelColor="black", labelLimit=2000,
                      labelOffset=22, columnPadding=pad)


def panel(series, names, legend_colors, y_domain, y_ticks, y_title, title, width, height, widths,
          leg, label_pad, title_pad, title_x, y_label_pad, y_title_pad, title_offset):
    x = alt.X("t:Q", scale=alt.Scale(domain=[0, 180], nice=False),
              axis=alt.Axis(values=X_TICKS, format="d", title="Times (s)", titleX=title_x,
                            labelPadding=label_pad, titlePadding=title_pad))
    y = alt.Y("v:Q", scale=alt.Scale(domain=y_domain, nice=False, zero=False),
              axis=alt.Axis(values=y_ticks, format="~g", title=y_title,
                            labelPadding=y_label_pad, titlePadding=y_title_pad))

    lines = [
        alt.Chart(frame(pairs, name)).mark_line(strokeWidth=w, interpolate="monotone", clip=True)
        .encode(
            x=x, y=y,
            color=alt.Color("series:N", scale=alt.Scale(domain=names, range=LINE_COLORS), legend=None),
            strokeDash=alt.StrokeDash("series:N", scale=alt.Scale(domain=names, range=LINE_DASHES),
                                      legend=None),
        )
        for pairs, name, w in zip(series, names, widths)
    ]

    # legend-only layer: no drawable rows, its own colour / dash scales
    key = alt.Chart(pd.DataFrame({"series": names, "t": [None] * 3, "v": [None] * 3})).mark_line(
        strokeWidth=5).encode(
        x=x, y=y,
        color=alt.Color("series:N", scale=alt.Scale(domain=names, range=legend_colors), legend=leg),
        strokeDash=alt.StrokeDash("series:N", scale=alt.Scale(domain=names, range=LEGEND_DASHES),
                                  legend=leg),
    )

    # MATLAB-style inward ticks on all four sides
    yt = alt.Chart(pd.DataFrame({"v": y_ticks}))
    xt = alt.Chart(pd.DataFrame({"t": X_TICKS}))
    rule = dict(color=AXIS_COLOR, strokeWidth=2.5)
    ticks = [
        yt.mark_rule(**rule).encode(y=y, x=alt.value(0), x2=alt.value(27)),
        yt.mark_rule(**rule).encode(y=y, x=alt.value(width - 27), x2=alt.value(width)),
        xt.mark_rule(**rule).encode(x=x, y=alt.value(height), y2=alt.value(height - 27)),
        xt.mark_rule(**rule).encode(x=x, y=alt.value(0), y2=alt.value(27)),
    ]
    return alt.layer(*lines, key, *ticks).resolve_scale(
        color="independent", strokeDash="independent"
    ).properties(
        width=width, height=height,
        title=alt.TitleParams(title, orient="bottom", font=FONT, fontSize=78,
                              fontWeight="bold", color="black", offset=title_offset, dx=-118),
    )


chart_a = panel(
    [A_LOAD, A_EST, A_ERR], A_NAMES, ["#FF0000", "#000000", "#0072BD"],
    [-0.1534, 0.1386], A_Y_TICKS, "ΔP [p.u.]", "(a)",
    2586, 1209, [4.5, 3.5, 4.5], legend(209, 76, 5), 10, 33, 1317, 7, 2, 66,
)
chart_b = panel(
    [B_STATE, B_EST, B_ERR], B_NAMES, ["#FF5A0A", "#000000", "#0072BD"],
    [-0.0488, 0.0287], B_Y_TICKS, "x₆ [p.u.]", "(b)",
    2576, 1159, [4, 3.5, 4], legend(479, 40, 65), 17, 72, 1288, 20, 14, 57,
)

chart = (
    alt.vconcat(chart_a, chart_b, spacing=30)
    .resolve_scale(x="independent", y="independent", color="independent", strokeDash="independent")
    .properties(padding={"top": 31, "left": 15, "right": 5, "bottom": 5})
    .configure_view(stroke=AXIS_COLOR, strokeWidth=2.5)
    .configure_axis(domain=False, ticks=False, tickSize=0, grid=False,
                    labelFont=FONT, labelFontSize=77, labelColor=LABEL_COLOR,
                    titleFont=FONT, titleFontSize=78, titleColor="black", titleFontWeight="normal")
)

chart.save("out.html", embed_options={"renderer": "svg", "actions": False})
